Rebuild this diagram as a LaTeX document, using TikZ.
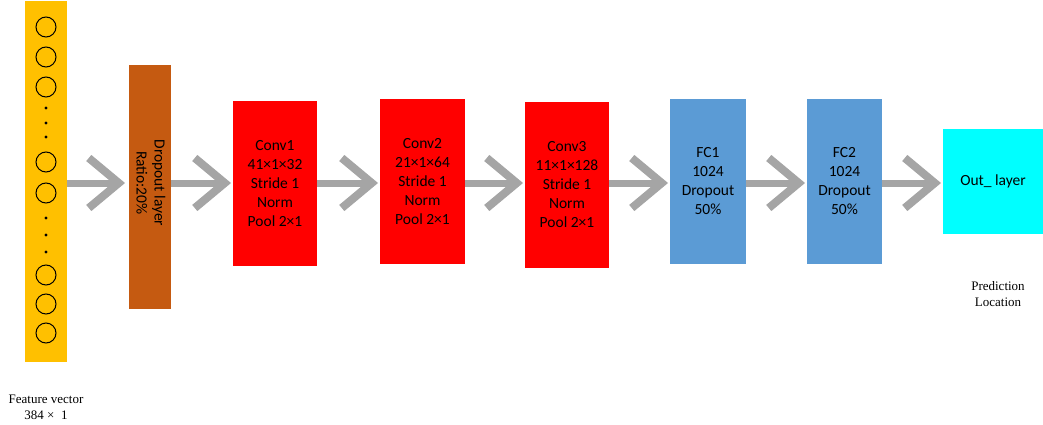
\documentclass[tikz,border=0pt]{standalone}
\usepackage{fontspec}
\setmainfont{Liberation Serif}
\newfontfamily\calfont{Carlito}
\usetikzlibrary{arrows.meta}
\definecolor{featyellow}{HTML}{FFC000}
\definecolor{dropbrown}{HTML}{C55A11}
\definecolor{convred}{HTML}{FF0000}
\definecolor{fcblue}{HTML}{5B9BD5}
\definecolor{outcyan}{HTML}{00FFFF}
\definecolor{flowgray}{HTML}{A5A5A5}

\begin{document}
\begin{tikzpicture}[x=1pt,y=-1pt,
	every node/.style={inner sep=0pt, outer sep=0pt},
	layer/.style={anchor=north west, align=center, font=\calfont\fontsize{15.5}{19}\selectfont},
	flow/.style={draw=flowgray, line width=7pt, shorten >=2pt, -{Straight Barb[length=30pt,width=50pt,line width=8pt]}},
	caption/.style={align=center, font=\fontsize{13}{16}\selectfont}]
	\useasboundingbox (0,0) rectangle (1043,425);
	\coordinate (mid) at (0,183);
	% input column
	\node[layer, fill=featyellow, minimum width=42pt, minimum height=361pt] (feat) at (25,1) {};
	\foreach \y in {27,57,87,162,193,275,304,333}
		\draw[line width=1pt] (46,\y) circle (10pt);
	\foreach \y in {108,123,137,218,235,252}
		\fill (46,\y) circle (1.6pt);
	\node[caption] (featlbl) at (46,407) {Feature vector\\384 ×\ \ 1};
	% layers
	\node[layer, fill=dropbrown, minimum width=42pt, minimum height=244pt] (drop) at (129,65) {};
	\node[font=\calfont\fontsize{15.5}{18}\selectfont, rotate=-90, align=center] (droptxt) at (151,183) {Dropout layer\\Ratio:20\%};
	\node[layer, fill=convred, minimum width=84pt, minimum height=165pt] (conv1) at (233,101) {Conv1\\41×1×32\\Stride 1\\Norm\\Pool 2×1};
	\node[layer, fill=convred, minimum width=85pt, minimum height=165pt] (conv2) at (380,99) {Conv2\\21×1×64\\Stride 1\\Norm\\Pool 2×1};
	\node[layer, fill=convred, minimum width=84pt, minimum height=166pt] (conv3) at (525,102) {Conv3\\11×1×128\\Stride 1\\Norm\\Pool 2×1};
	\node[layer, fill=fcblue, minimum width=76pt, minimum height=165pt] (fc1) at (670,99) {FC1\\1024\\Dropout\\50\%};
	\node[layer, fill=fcblue, minimum width=75pt, minimum height=165pt] (fc2) at (807,99) {FC2\\1024\\Dropout\\50\%};
	\node[layer, fill=outcyan, minimum width=100pt, minimum height=105pt] (out) at (943,129) {Out\_ layer};
	\node[caption] (predlbl) at (998,294) {Prediction\\Location};
	% arrows
	\draw[flow, shorten >=4pt] (feat.east |- mid) -- (drop.west |- mid);
	\draw[flow] (drop.east |- mid) -- (conv1.west |- mid);
	\draw[flow] (conv1.east |- mid) -- (conv2.west |- mid);
	\draw[flow] (conv2.east |- mid) -- (conv3.west |- mid);
	\draw[flow] (conv3.east |- mid) -- (fc1.west |- mid);
	\draw[flow] (fc1.east |- mid) -- (fc2.west |- mid);
	\draw[flow] (fc2.east |- mid) -- (out.west |- mid);
\end{tikzpicture}
\end{document}
